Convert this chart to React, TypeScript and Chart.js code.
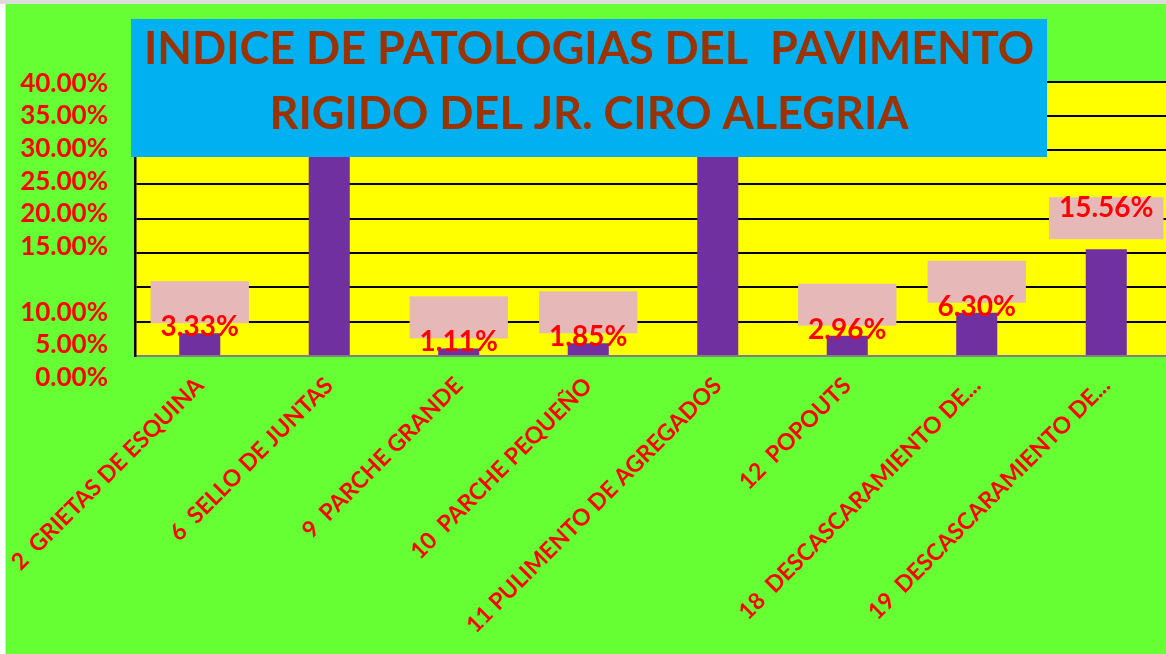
import React, { useEffect, useRef } from "react";
import { Chart, registerables } from "chart.js";

Chart.register(...registerables);

const categories = [
  "2  GRIETAS DE ESQUINA",
  "6  SELLO DE JUNTAS",
  "9  PARCHE GRANDE",
  "10  PARCHE PEQUEÑO",
  "11 PULIMENTO DE AGREGADOS",
  "12  POPOUTS",
  "18  DESCASCARAMIENTO DE...",
  "19  DESCASCARAMIENTO DE...",
];
const values = [3.33, 34.44, 1.11, 1.85, 34.44, 2.96, 6.3, 15.56];
const yTickLabels = ["40.00%", "35.00%", "30.00%", "25.00%", "20.00%", "15.00%", "", "10.00%", "5.00%", "0.00%"];
const titleLines = ["INDICE DE PATOLOGIAS DEL  PAVIMENTO", "RIGIDO DEL JR. CIRO ALEGRIA"];

const W = 1180;
const H = 654;
const FONT = "Lato, 'Open Sans', sans-serif";

const bgPlugin = {
  id: "bg",
  beforeDraw(chart: any) {
    const { ctx, chartArea } = chart;
    ctx.save();
    ctx.fillStyle = "#ffffff";
    ctx.fillRect(0, 0, W, H);
    ctx.fillStyle = "#dcdcdc";
    ctx.fillRect(0, 0, W, 4);
    ctx.fillRect(5, 0, 1, H);
    ctx.fillStyle = "#66FF33";
    ctx.fillRect(6, 4, W - 6, H - 4);
    ctx.fillStyle = "#FFFF00";
    ctx.fillRect(chartArea.left, chartArea.top, chartArea.right - chartArea.left, chartArea.bottom - chartArea.top);
    ctx.restore();
  },
};

const LABEL_RAISE: Record<number, number> = { 7: 35 };

const labelPlugin = {
  id: "barLabels",
  afterDatasetsDraw(chart: any) {
    const { ctx } = chart;
    const meta = chart.getDatasetMeta(0);
    ctx.save();
    ctx.font = `bold 28px ${FONT}`;
    meta.data.forEach((el: any, i: number) => {
      const txt = values[i].toFixed(2) + "%";
      const w = ctx.measureText(txt).width;
      const top = el.y;
      const bw = w + 20;
      ctx.fillStyle = "#E6B9B8";
      ctx.fillRect(el.x - bw / 2, top - 52, bw, 42);
      ctx.fillStyle = "#FF0000";
      ctx.textAlign = "center";
      ctx.textBaseline = "alphabetic";
      ctx.fillText(txt, el.x, top + 3 - (LABEL_RAISE[i] || 0));
    });
    ctx.restore();
  },
};

const overlayPlugin = {
  id: "overlay",
  afterDraw(chart: any) {
    const { ctx } = chart;
    const ys = chart.scales.y;
    ctx.save();
    ctx.font = `bold 26px ${FONT}`;
    ctx.fillStyle = "#FF0000";
    ctx.textAlign = "right";
    ctx.textBaseline = "alphabetic";
    const step = (ys.bottom + 20 - ys.top) / (yTickLabels.length - 1);
    yTickLabels.forEach((t, i) => {
      if (!t) return;
      ctx.fillText(t, 108, ys.top + i * step + 10);
    });
    ctx.fillStyle = "#00B0F0";
    ctx.fillRect(131, 19, 916, 138);
    ctx.fillStyle = "#993300";
    ctx.font = `bold 45px ${FONT}`;
    ctx.textAlign = "center";
    ctx.fillText(titleLines[0], 589, 64);
    ctx.fillText(titleLines[1], 589, 129);
    ctx.restore();
  },
};

export default function App() {
  const ref = useRef<HTMLCanvasElement>(null);
  useEffect(() => {
    const chart = new Chart(ref.current as HTMLCanvasElement, {
      type: "bar",
      data: {
        labels: categories,
        datasets: [
          {
            data: values,
            backgroundColor: "#7030A0",
            barPercentage: 0.317,
            categoryPercentage: 1,
          },
        ],
      },
      options: {
        responsive: false,
        animation: false,
        events: [],
        layout: { padding: { left: 135, top: 81.5, right: 9, bottom: 0 } },
        plugins: { legend: { display: false }, tooltip: { enabled: false }, title: { display: false } },
        scales: {
          x: {
            grid: { display: false, drawTicks: false },
            border: { display: true, color: "#808080", width: 2 },
            ticks: {
              autoSkip: false,
              maxRotation: 45,
              minRotation: 45,
              color: "#FF0000",
              font: { family: FONT, size: 23, weight: "bold" },
              padding: 16,
            },
            afterFit: (s: any) => {
              s.height = H - 356;
              s.paddingLeft = 0;
              s.paddingRight = 0;
            },
          },
          y: {
            min: 0,
            max: 40,
            ticks: { display: false, stepSize: 5 },
            grid: {
              drawTicks: false,
              lineWidth: 2,
              color: (c: any) => (c.tick && c.tick.value === 0 ? "rgba(0,0,0,0)" : "#000000"),
            },
            border: { display: true, color: "#000000", width: 2.5 },
            afterFit: (s: any) => {
              s.width = 0;
            },
          },
        },
      },
      plugins: [bgPlugin, labelPlugin, overlayPlugin],
    } as any);
    return () => chart.destroy();
  }, []);
  return (
    <div style={{ position: "fixed", left: 0, top: 0, width: 1166, height: 654, overflow: "hidden", background: "#fff" }}>
      <canvas ref={ref} width={W} height={H} style={{ display: "block", width: W, height: H }} />
    </div>
  );
}
